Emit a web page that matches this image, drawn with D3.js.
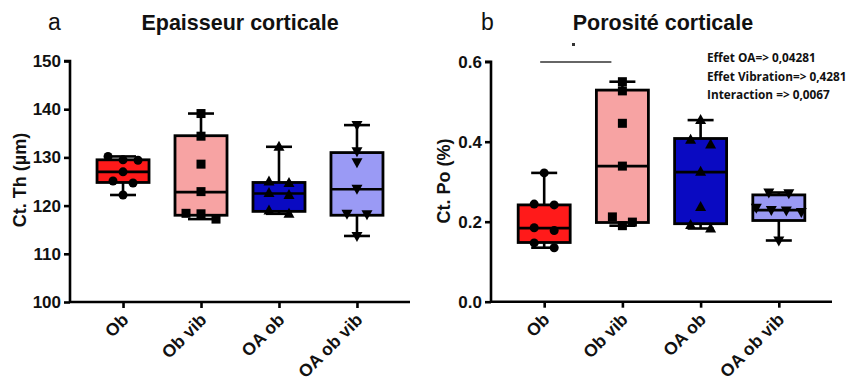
<!DOCTYPE html>
<html><head><meta charset="utf-8">
<script src="https://cdn.jsdelivr.net/npm/d3@7"></script>
<style>
body{margin:0;background:#fff;}
svg{display:block;}
svg text{font-family:"Liberation Sans",Arial,sans-serif;}
svg text.ann{font-family:"Open Sans",sans-serif;}
</style></head>
<body><svg id="c" width="849" height="385"></svg>
<script>
// ---- data ----
const categories = ["Ob", "Ob vib", "OA ob", "OA ob vib"];
const fillColors = ["#ff1a1a", "#f7a3a3", "#0a0ac2", "#9a9af5"];
const markerShapes = ["circle", "square", "triangleUp", "triangleDown"];

// Panel a: cortical thickness (µm)
const thPoints = [
  [130.2, 129.5, 129.4, 127.0, 125.1, 124.7, 122.2],
  [139.1, 134.4, 128.6, 122.9, 118.4, 118.3, 117.2],
  [132.2, 125.0, 124.7, 122.6, 122.2, 119.0, 118.3],
  [136.7, 131.3, 129.0, 123.5, 118.3, 118.2, 113.7]
];
// [min, q1, median, q3, max]
const thStats = [
  [122.2, 124.8, 127.0, 129.5, 130.2],
  [117.2, 118.0, 122.8, 134.5, 139.1],
  [118.3, 118.8, 122.5, 124.8, 132.2],
  [113.7, 118.0, 123.4, 131.0, 136.7]
];
const thTicks = [100, 110, 120, 130, 140, 150];

// Panel b: cortical porosity (%)
const poPoints = [
  [0.322, 0.244, 0.242, 0.185, 0.178, 0.147, 0.135],
  [0.550, 0.527, 0.446, 0.339, 0.212, 0.199, 0.190],
  [0.454, 0.405, 0.393, 0.325, 0.237, 0.192, 0.183],
  [0.273, 0.271, 0.235, 0.229, 0.228, 0.224, 0.153]
];
const poStats = [
  [0.135, 0.148, 0.184, 0.242, 0.322],
  [0.190, 0.198, 0.339, 0.529, 0.550],
  [0.183, 0.195, 0.324, 0.408, 0.454],
  [0.153, 0.203, 0.229, 0.267, 0.273]
];
const poTicks = [0.0, 0.2, 0.4, 0.6];
const annotations = ["Effet OA=> 0,04281", "Effet Vibration=> 0,4281", "Interaction => 0,0067"];

// ---- drawing ----
const svg = d3.select("#c");

function panel(opt) {
  const g = svg.append("g");
  const x = d3.scalePoint().domain(categories).range([opt.x0, opt.x1]).padding(0.68);
  const y = d3.scaleLinear().domain(opt.domain).range([opt.yb, opt.yt]);

  // y axis
  const ya = g.append("g").attr("transform", `translate(${opt.x0},0)`)
    .call(d3.axisLeft(y).tickValues(opt.ticks).tickFormat(opt.fmt).tickSize(6).tickPadding(3));
  ya.attr("font-family", null);
  ya.select(".domain").attr("stroke", "#000").attr("stroke-width", 2.6).attr("d", `M-6,${opt.yt}H0V${opt.yb}`);
  ya.selectAll(".tick line").attr("stroke", "#000").attr("stroke-width", 2.6);
  ya.selectAll(".tick text").attr("font-size", 17).attr("font-weight", "bold").attr("fill", "#111");

  // x axis
  const xa = g.append("g").attr("transform", `translate(0,${opt.yb})`)
    .call(d3.axisBottom(x).tickSize(6).tickSizeOuter(0));
  xa.attr("font-family", null);
  xa.select(".domain").attr("stroke", "#000").attr("stroke-width", 2.6).attr("d", `M${opt.x0},0H${opt.x1}`);
  xa.selectAll(".tick line").attr("stroke", "#000").attr("stroke-width", 2.6);
  xa.selectAll(".tick text").attr("font-size", 17.5).attr("font-weight", "bold").attr("fill", "#111")
    .attr("text-anchor", "end").attr("dy", 0).attr("y", 0)
    .attr("transform", "translate(6,19) rotate(-45)");

  const hw = 26, cap = 13;
  categories.forEach((c, i) => {
    const cx = x(c);
    const s = opt.stats[i];
    // whisker
    g.append("line").attr("x1", cx).attr("x2", cx).attr("y1", y(s[4])).attr("y2", y(s[0]))
      .attr("stroke", "#000").attr("stroke-width", 2.6);
    [s[0], s[4]].forEach(v => g.append("line").attr("x1", cx - cap).attr("x2", cx + cap)
      .attr("y1", y(v)).attr("y2", y(v)).attr("stroke", "#000").attr("stroke-width", 2.6));
    // box
    g.append("rect").attr("x", cx - hw).attr("width", hw * 2)
      .attr("y", y(s[3])).attr("height", y(s[1]) - y(s[3]))
      .attr("fill", fillColors[i]).attr("stroke", "#000").attr("stroke-width", 2.8);
    g.append("line").attr("x1", cx - hw).attr("x2", cx + hw).attr("y1", y(s[2])).attr("y2", y(s[2]))
      .attr("stroke", "#000").attr("stroke-width", 2.6);
    // points (spread horizontally when values are close, like GraphPad)
    const pts = opt.points[i].slice().sort((a, b) => b - a);
    const rows = [];
    pts.forEach(v => {
      const yy = y(v);
      let row = rows.find(r => Math.abs(r.y - yy) < 7);
      if (!row) { row = { y: yy, items: [] }; rows.push(row); }
      row.items.push(v);
    });
    rows.forEach(r => {
      const n = r.items.length;
      const step = n > 2 ? 15 : 20;
      r.items.forEach((v, k) => {
        const off = (k - (n - 1) / 2) * step;
        const px = cx + off, py = y(v);
        const shape = markerShapes[i];
        if (shape === "circle") g.append("circle").attr("cx", px).attr("cy", py).attr("r", 4.5).attr("fill", "#000");
        else if (shape === "square") g.append("rect").attr("x", px - 4.5).attr("y", py - 4.5).attr("width", 9).attr("height", 9).attr("fill", "#000");
        else if (shape === "triangleUp") g.append("path").attr("d", `M${px},${py - 6}L${px + 5.5},${py + 4}L${px - 5.5},${py + 4}Z`).attr("fill", "#000");
        else g.append("path").attr("d", `M${px},${py + 6}L${px + 5.5},${py - 4}L${px - 5.5},${py - 4}Z`).attr("fill", "#000");
      });
    });
  });

  // titles
  svg.append("text").attr("x", opt.letterX).attr("y", 30).attr("font-size", 23).attr("fill", "#111").text(opt.letter);
  svg.append("text").attr("x", opt.titleX).attr("y", 30).attr("text-anchor", "middle")
    .attr("font-size", 21.5).attr("font-weight", "bold").attr("fill", "#111").text(opt.title);
  svg.append("text").attr("transform", `translate(${opt.labX},${opt.labY}) rotate(-90)`)
    .attr("text-anchor", "middle").attr("font-size", 18).attr("font-weight", "bold").attr("fill", "#111").text(opt.ylabel);
  return { x, y, g };
}

panel({ x0: 70, x1: 410, yt: 61, yb: 302, domain: [100, 150], ticks: thTicks, fmt: d3.format("d"),
  stats: thStats, points: thPoints, letter: "a", letterX: 48, title: "Epaisseur corticale", titleX: 240,
  ylabel: "Ct. Th (µm)", labX: 26, labY: 180 });

const pb = panel({ x0: 491, x1: 832, yt: 61.7, yb: 301.7, domain: [0, 0.6], ticks: poTicks, fmt: d3.format(".1f"),
  stats: poStats, points: poPoints, letter: "b", letterX: 481, title: "Porosité corticale", titleX: 663,
  ylabel: "Ct. Po (%)", labX: 450, labY: 181 });

// significance bar
pb.g.append("line").attr("x1", pb.x("Ob") - 4).attr("x2", pb.x("Ob vib") - 11).attr("y1", 62).attr("y2", 62)
  .attr("stroke", "#333").attr("stroke-width", 1.3);
pb.g.append("rect").attr("x", 572).attr("y", 43).attr("width", 3).attr("height", 3).attr("fill", "#333");

// annotation
annotations.forEach((t, i) => {
  svg.append("text").attr("class", "ann").attr("x", 707).attr("y", 62 + i * 18.5)
    .attr("font-size", 11.8).attr("font-weight", 700).attr("fill", "#111").text(t);
});
</script></body></html>
